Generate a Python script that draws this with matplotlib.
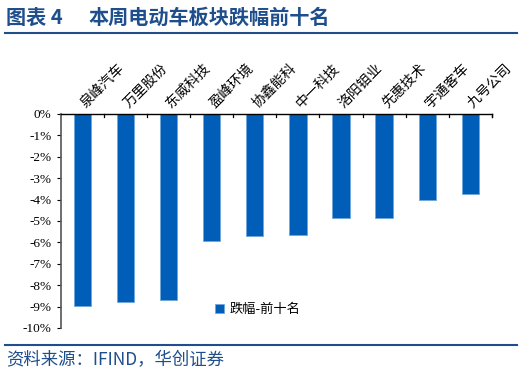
import matplotlib
matplotlib.use('Agg')
import matplotlib.pyplot as plt
from matplotlib.ticker import FuncFormatter, MultipleLocator
from matplotlib.lines import Line2D
import numpy as np

plt.rcParams['font.family'] = ['Noto Sans CJK SC', 'DejaVu Sans']

# top 10 decliners, weekly change (%)
names = ['泉峰汽车', '万里股份', '东威科技', '盈峰环境', '协鑫能科',
         '中一科技', '洛阳钼业', '先惠技术', '宇通客车', '九号公司']
pct = [-8.95, -8.77, -8.69, -5.92, -5.70, -5.67, -4.88, -4.87, -4.02, -3.75]

navy = '#1F4E8C'
bar_color = '#005EB8'

fig = plt.figure(figsize=(5.26, 3.77), dpi=100)
ax = fig.add_axes([0.116, 0.130, 0.819, 0.568])

x = np.arange(len(names))
ax.bar(x, pct, width=0.4, color=bar_color, edgecolor='#6FA8DC', linewidth=0.6,
       label='跌幅-前十名')

ax.set_xlim(-0.5, len(names) - 0.5)
ax.set_ylim(-10, 0)
ax.yaxis.set_major_locator(MultipleLocator(1))
ax.yaxis.set_major_formatter(FuncFormatter(lambda v, p: f'{v:.0f}%'))
for lab in ax.get_yticklabels():
    lab.set_fontfamily('Liberation Serif')
ax.tick_params(axis='y', labelsize=9.5, length=3, direction='out', pad=4)

ax.xaxis.tick_top()
ax.set_xticks(x)
ax.set_xticklabels(names, rotation=45, ha='left', va='center',
                   rotation_mode='anchor', fontsize=10)
ax.tick_params(axis='x', length=0, pad=6)
# boundary ticks pointing down
for b in np.arange(0.5, len(names), 1.0):
    ax.plot([b, b], [0, -0.14], color='black', lw=0.9, clip_on=False)
ax.plot([len(names) - 0.5] * 2, [0, -0.14], color='black', lw=0.9, clip_on=False)

ax.spines['right'].set_visible(False)
ax.spines['bottom'].set_visible(False)
ax.spines['top'].set_linewidth(1.0)
ax.spines['left'].set_color('#555555')
ax.spines['left'].set_linewidth(1.2)

ax.legend(loc='lower left', bbox_to_anchor=(0.33, 0.0), frameon=False,
          fontsize=9.5, handlelength=0.7, handleheight=0.7, handletextpad=0.4)

# title and rules
fig.text(0.012, 0.955, '图表 4', color=navy,
         fontsize=14.5, fontweight='bold', va='center', ha='left')
fig.text(0.168, 0.955, '本周电动车板块跌幅前十名', color=navy,
         fontsize=14.5, fontweight='bold', va='center', ha='left')
fig.add_artist(Line2D([0.010, 0.982], [0.913, 0.913], color=navy, lw=1.5))
fig.add_artist(Line2D([0.010, 0.982], [0.085, 0.085], color=navy, lw=1.5))
fig.text(0.012, 0.045, '资料来源：IFIND，华创证券', color=navy,
         fontsize=12.5, style='italic', va='center', ha='left')

fig.savefig('out.png', dpi=100)
